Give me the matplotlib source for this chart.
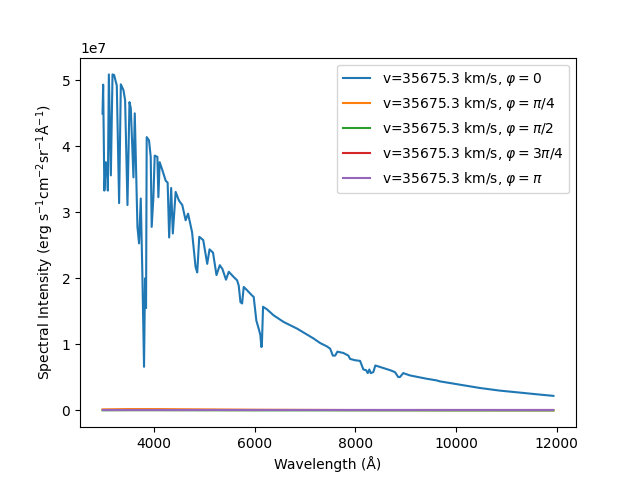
import matplotlib
matplotlib.use("Agg")
import matplotlib.pyplot as plt
import numpy as np

# Wavelength (Angstrom) for phi = 0 spectrum
wavelength = [2978, 2990, 3014, 3044, 3073, 3083, 3103, 3143, 3176, 3208, 3261, 3307, 3341, 3394,
              3426, 3473, 3513, 3539, 3592, 3618, 3671, 3703, 3737, 3770, 3802, 3822, 3842, 3855,
              3901, 3935, 3954, 3988, 4014, 4067, 4087, 4113, 4166, 4232, 4271, 4301, 4341, 4374,
              4430, 4495, 4562, 4628, 4677, 4756, 4826, 4859, 4899, 4978, 5057, 5103, 5172, 5241,
              5307, 5360, 5430, 5485, 5584, 5651, 5683, 5717, 5750, 5782, 5849, 5948, 5980, 6033,
              6079, 6113, 6132, 6142, 6166, 6245, 6376, 6574, 6839, 7168, 7301, 7433, 7499, 7552,
              7598, 7643, 7762, 7861, 7895, 7994, 8093, 8158, 8212, 8245, 8277, 8304, 8356, 8396,
              8522, 8687, 8786, 8851, 8885, 8950, 9083, 9247, 9413, 9611, 9677, 10073, 10469, 10865,
              11261, 11657, 11934]

# Intensity for phi = 0 in units of 1e6 erg/s/cm2/sr/A
intensity_phi0 = [44.95, 49.35, 33.3, 37.6, 35.6, 33.3, 50.9, 35.6, 50.9, 50.8, 49.2, 31.4, 49.4, 48.5,
                  47.0, 31.1, 46.7, 45.8, 35.3, 45.0, 27.8, 25.3, 32.1, 20.2, 6.6, 20.0, 15.5, 41.4,
                  40.9, 38.4, 27.8, 32.3, 38.6, 38.4, 32.3, 37.6, 36.4, 34.8, 34.5, 26.2, 33.7, 26.8,
                  33.1, 31.8, 31.1, 28.8, 29.8, 27.0, 21.7, 20.9, 26.3, 25.8, 22.2, 24.4, 23.9, 20.5,
                  22.0, 21.4, 19.8, 21.0, 20.2, 19.7, 18.9, 16.4, 16.2, 18.7, 18.2, 17.4, 17.2, 13.6,
                  12.4, 11.4, 9.6, 9.7, 15.7, 15.3, 14.4, 13.4, 12.4, 10.9, 10.2, 9.7, 9.35, 8.3,
                  8.3, 8.9, 8.7, 8.3, 7.8, 7.6, 7.5, 6.2, 6.1, 5.65, 6.2, 5.65, 5.8, 6.8,
                  6.5, 6.1, 5.8, 5.05, 5.05, 5.65, 5.3, 5.05, 4.8, 4.55, 4.4, 3.9, 3.4, 3.0,
                  2.7, 2.4, 2.2]

# Other phases: nearly zero intensity (units of 1e6)
wavelength_other = [2978, 3500, 4000, 5000, 6000, 8000, 10000, 11934]
intensity_phi_pi4 = [0.15, 0.2, 0.2, 0.15, 0.1, 0.05, 0.03, 0.02]
intensity_phi_pi2 = [0.02, 0.03, 0.03, 0.02, 0.01, 0.01, 0.0, 0.0]
intensity_phi_3pi4 = [0.0, 0.0, 0.0, 0.0, 0.0, 0.0, 0.0, 0.0]
intensity_phi_pi = [0.0, 0.0, 0.0, 0.0, 0.0, 0.0, 0.0, 0.0]

labels = [r'v=35675.3 km/s, $\varphi = 0$',
          r'v=35675.3 km/s, $\varphi = \pi/4$',
          r'v=35675.3 km/s, $\varphi = \pi/2$',
          r'v=35675.3 km/s, $\varphi = 3\pi/4$',
          r'v=35675.3 km/s, $\varphi = \pi$']

fig, ax = plt.subplots(figsize=(6.4, 4.8), dpi=100)
ax.plot(wavelength, np.array(intensity_phi0) * 1e6, label=labels[0])
for vals, lab in zip([intensity_phi_pi4, intensity_phi_pi2, intensity_phi_3pi4, intensity_phi_pi], labels[1:]):
    ax.plot(wavelength_other, np.array(vals) * 1e6, label=lab)

ax.set_xlabel('Wavelength (Å)')
ax.set_ylabel(r'Spectral Intensity (erg s$^{-1}$cm$^{-2}$sr$^{-1}$Å$^{-1}$)')
ax.legend(loc='upper right')
fig.savefig('out.png', dpi=100)
